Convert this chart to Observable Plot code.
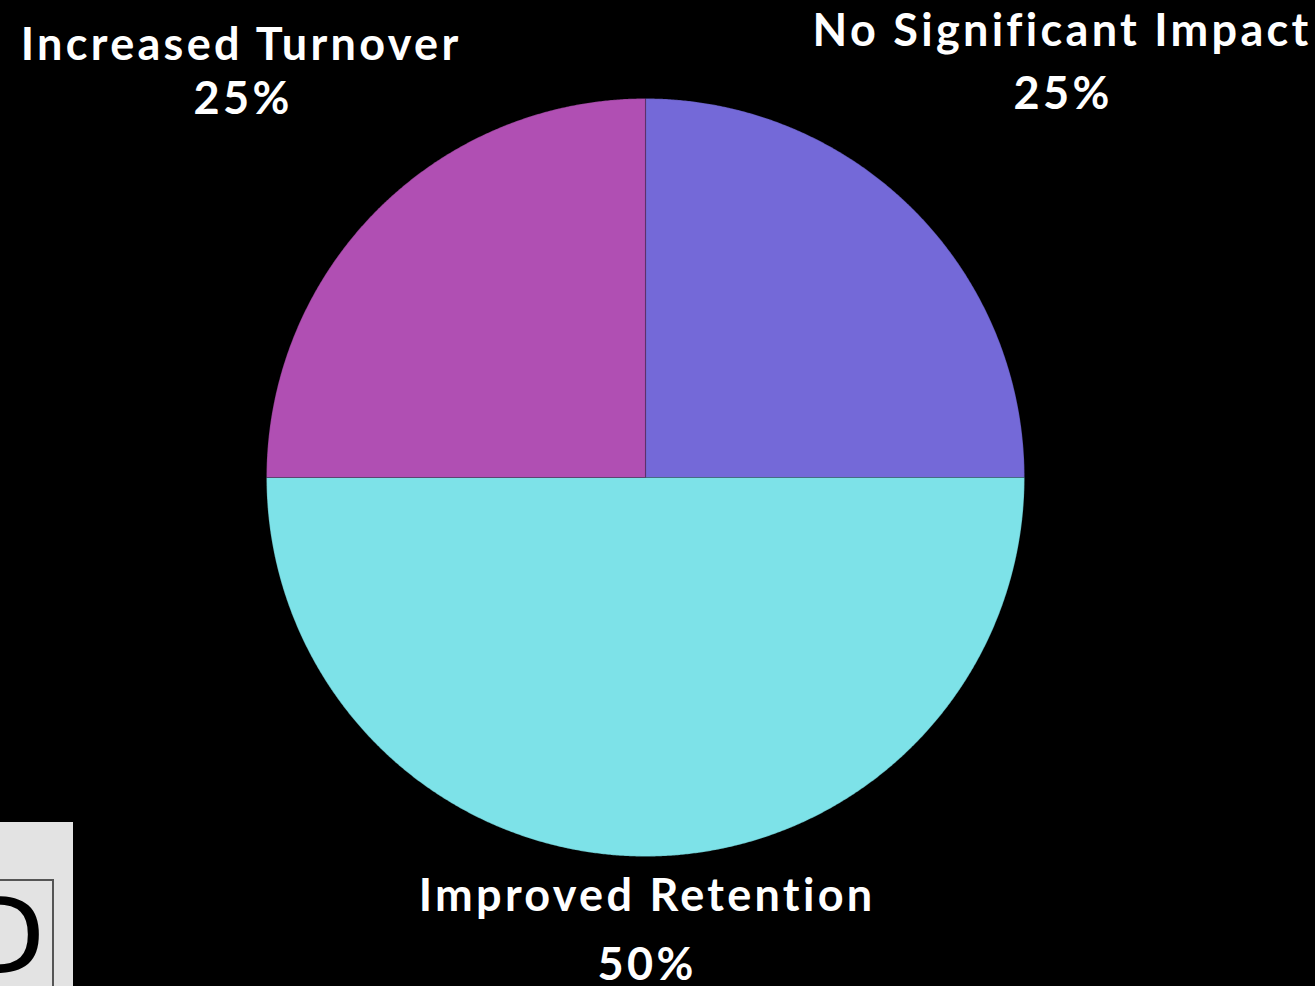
<!DOCTYPE html>
<html>
<head>
<meta charset="utf-8">
<script src="https://cdn.jsdelivr.net/npm/d3@7"></script>
<script src="https://cdn.jsdelivr.net/npm/@observablehq/plot@0.6"></script>
<style>
  html, body { margin: 0; padding: 0; background: #000; }
  #chart { position: relative; width: 1315px; height: 986px; overflow: hidden; }
  #badge { position: absolute; left: 0; top: 822px; width: 73px; height: 164px; background: #e3e3e3; overflow: hidden; }
  #badge .frame { position: absolute; left: -10px; top: 57px; width: 60px; height: 120px; border: 2px solid #555; }
  #badge .glyph { position: absolute; right: 28px; top: 62px; font: 400 106px "DejaVu Sans", sans-serif; color: #000; line-height: 1; }
</style>
</head>
<body>
<div id="chart"></div>
<script>
// ---- data ----
const categories = ["No Significant Impact", "Improved Retention", "Increased Turnover"];
const shares = [25, 50, 25];
const sliceColors = ["#7469d8", "#7de2e8", "#b04fb3"];
const percentLabels = ["25%", "50%", "25%"];

// ---- layout (pixels) ----
const W = 1315, H = 986;
const cx = 645, cy = 477, R = 379;
// label placement offsets relative to centre (in units of radius)
const labelPlace = {
  "No Significant Impact": {name: [415 / R, 446 / R], pct: [416 / R, 383 / R]},
  "Improved Retention":   {name: [0, -419 / R], pct: [0, -488 / R]},
  "Increased Turnover":   {name: [-406 / R, 432 / R], pct: [-404 / R, 378 / R]}
};

const pie = d3.pie().sort(null).value(d => d.value);
const arcs = pie(categories.map((c, i) => ({name: c, value: shares[i], color: sliceColors[i], pct: percentLabels[i]})));

// polygon vertices in unit coordinates (angle clockwise from 12 o'clock)
const verts = [];
for (const a of arcs) {
  const n = Math.max(2, Math.ceil((a.endAngle - a.startAngle) / (Math.PI / 720)));
  verts.push({name: a.data.name, color: a.data.color, x: 0, y: 0});
  for (let k = 0; k <= n; k++) {
    const t = a.startAngle + (a.endAngle - a.startAngle) * k / n;
    verts.push({name: a.data.name, color: a.data.color, x: Math.sin(t), y: Math.cos(t)});
  }
  verts.push({name: a.data.name, color: a.data.color, x: 0, y: 0});
}

const labels = arcs.map(a => ({
  name: a.data.name,
  pct: a.data.pct,
  nx: labelPlace[a.data.name].name[0], ny: labelPlace[a.data.name].name[1],
  px: labelPlace[a.data.name].pct[0], py: labelPlace[a.data.name].pct[1]
}));

const font = "Lato, 'Open Sans', sans-serif";

const plot = Plot.plot({
  width: W,
  height: H,
  margin: 0,
  style: {background: "#000", color: "#fff", letterSpacing: "3.3px"},
  x: {domain: [-1, 1], range: [cx - R, cx + R], axis: null},
  y: {domain: [-1, 1], range: [cy + R, cy - R], axis: null},
  color: {type: "identity"},
  marks: [
    Plot.line(verts, {
      x: "x", y: "y", z: "name",
      fill: "color",
      stroke: "#000", strokeOpacity: 0.18, strokeWidth: 1.2,
      curve: "linear"
    }),
    Plot.text(labels, {
      x: "nx", y: "ny", text: "name",
      fill: "#fff", fontSize: 45, fontWeight: 700, fontFamily: font,
      textAnchor: "middle", lineAnchor: "middle", dx: 1.6
    }),
    Plot.text(labels, {
      x: "px", y: "py", text: "pct",
      fill: "#fff", fontSize: 45, fontWeight: 700, fontFamily: font,
      textAnchor: "middle", lineAnchor: "middle", dx: 1.6
    })
  ]
});

const host = document.getElementById("chart");
host.appendChild(plot);
const badge = document.createElement("div");
badge.id = "badge";
badge.innerHTML = '<div class="frame"></div><div class="glyph">D</div>';
host.appendChild(badge);
</script>
</body>
</html>
